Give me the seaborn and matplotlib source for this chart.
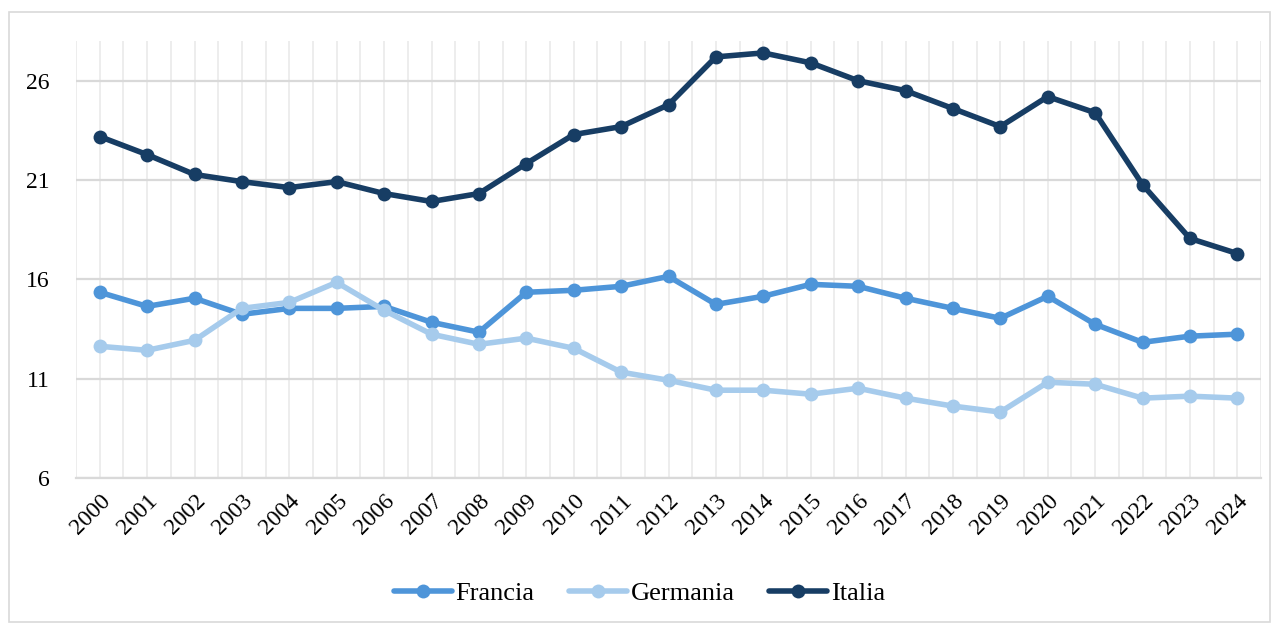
import matplotlib
matplotlib.use("Agg")
import matplotlib.pyplot as plt
import seaborn as sns
import pandas as pd
import numpy as np
from matplotlib.patches import Rectangle

years = list(range(2000, 2025))
francia = [15.35, 14.64, 15.05, 14.24, 14.54, 14.54, 14.64, 13.84, 13.34, 15.35,
           15.45, 15.65, 16.15, 14.74, 15.15, 15.75, 15.65, 15.05, 14.54, 14.04,
           15.15, 13.74, 12.83, 13.14, 13.24]
germania = [12.63, 12.43, 12.93, 14.54, 14.84, 15.85, 14.44, 13.24, 12.73, 13.04,
            12.53, 11.33, 10.92, 10.42, 10.42, 10.22, 10.52, 10.02, 9.62, 9.32,
            10.82, 10.72, 10.02, 10.12, 10.02]
italia = [23.19, 22.28, 21.28, 20.92, 20.62, 20.92, 20.32, 19.92, 20.32, 21.83,
          23.29, 23.69, 24.79, 27.20, 27.40, 26.90, 26.00, 25.50, 24.60, 23.69,
          25.20, 24.39, 20.77, 18.06, 17.30]
series_names = ["Francia", "Germania", "Italia"]
colors = ["#4E95D9", "#A6CBEC", "#173D64"]
y_ticks = [6, 11, 16, 21, 26]

df = pd.DataFrame({
    "Anno": years * 3,
    "Valore": francia + germania + italia,
    "Paese": [n for n in series_names for _ in years],
})

sns.set_theme(style="white")
plt.rcParams["font.family"] = ["Liberation Serif", "DejaVu Serif"]
plt.rcParams["text.color"] = "black"

fig = plt.figure(figsize=(12.79, 6.28), dpi=100)
ax = fig.add_axes([76/1279, 1-478/628, (1261-76)/1279, (478-41)/628])

sns.lineplot(data=df, x="Anno", y="Valore", hue="Paese", palette=colors,
             marker="o", markersize=10, markeredgewidth=0, linewidth=4,
             ax=ax, zorder=3)

ax.set_xlim(1999.5, 2024.5)
ax.set_ylim(6, 28)
ax.set_yticks(y_ticks)
ax.set_xticks(years)
ax.set_xticks(np.arange(1999.5, 2025, 1.0), minor=True)
ax.set_xticklabels([str(y) for y in years], rotation=45, ha="right",
                   rotation_mode="anchor", fontsize=17, color="black")
ax.set_yticklabels([str(t) for t in y_ticks], fontsize=17, color="black")
ax.tick_params(axis="both", length=0, which="both")
ax.tick_params(axis="y", pad=19)
ax.tick_params(axis="x", pad=9)
ax.set_xlabel("")
ax.set_ylabel("")

ax.grid(axis="y", color="#D9D9D9", linewidth=1.6, zorder=0)
ax.grid(axis="x", which="both", color="#EDEDED", linewidth=1.4, zorder=0)
for s in ["top", "right", "left"]:
    ax.spines[s].set_visible(False)
ax.spines["bottom"].set_color("#D9D9D9")
ax.spines["bottom"].set_linewidth(1.6)

handles, labels = ax.get_legend_handles_labels()
leg = ax.legend(handles, labels, loc="center", bbox_to_anchor=(0.5, 1-593/628),
                bbox_transform=fig.transFigure, ncol=3, frameon=False, fontsize=19,
                handlelength=2.2, handletextpad=0.15, columnspacing=1.3)
for t in leg.get_texts():
    t.set_color("black")

fig.patches.append(Rectangle((9/1279, 1-622/628), (1270-9)/1279, (622-12)/628,
                             transform=fig.transFigure, fill=False,
                             edgecolor="#D9D9D9", linewidth=1.2))

fig.savefig("out.png", dpi=100)
